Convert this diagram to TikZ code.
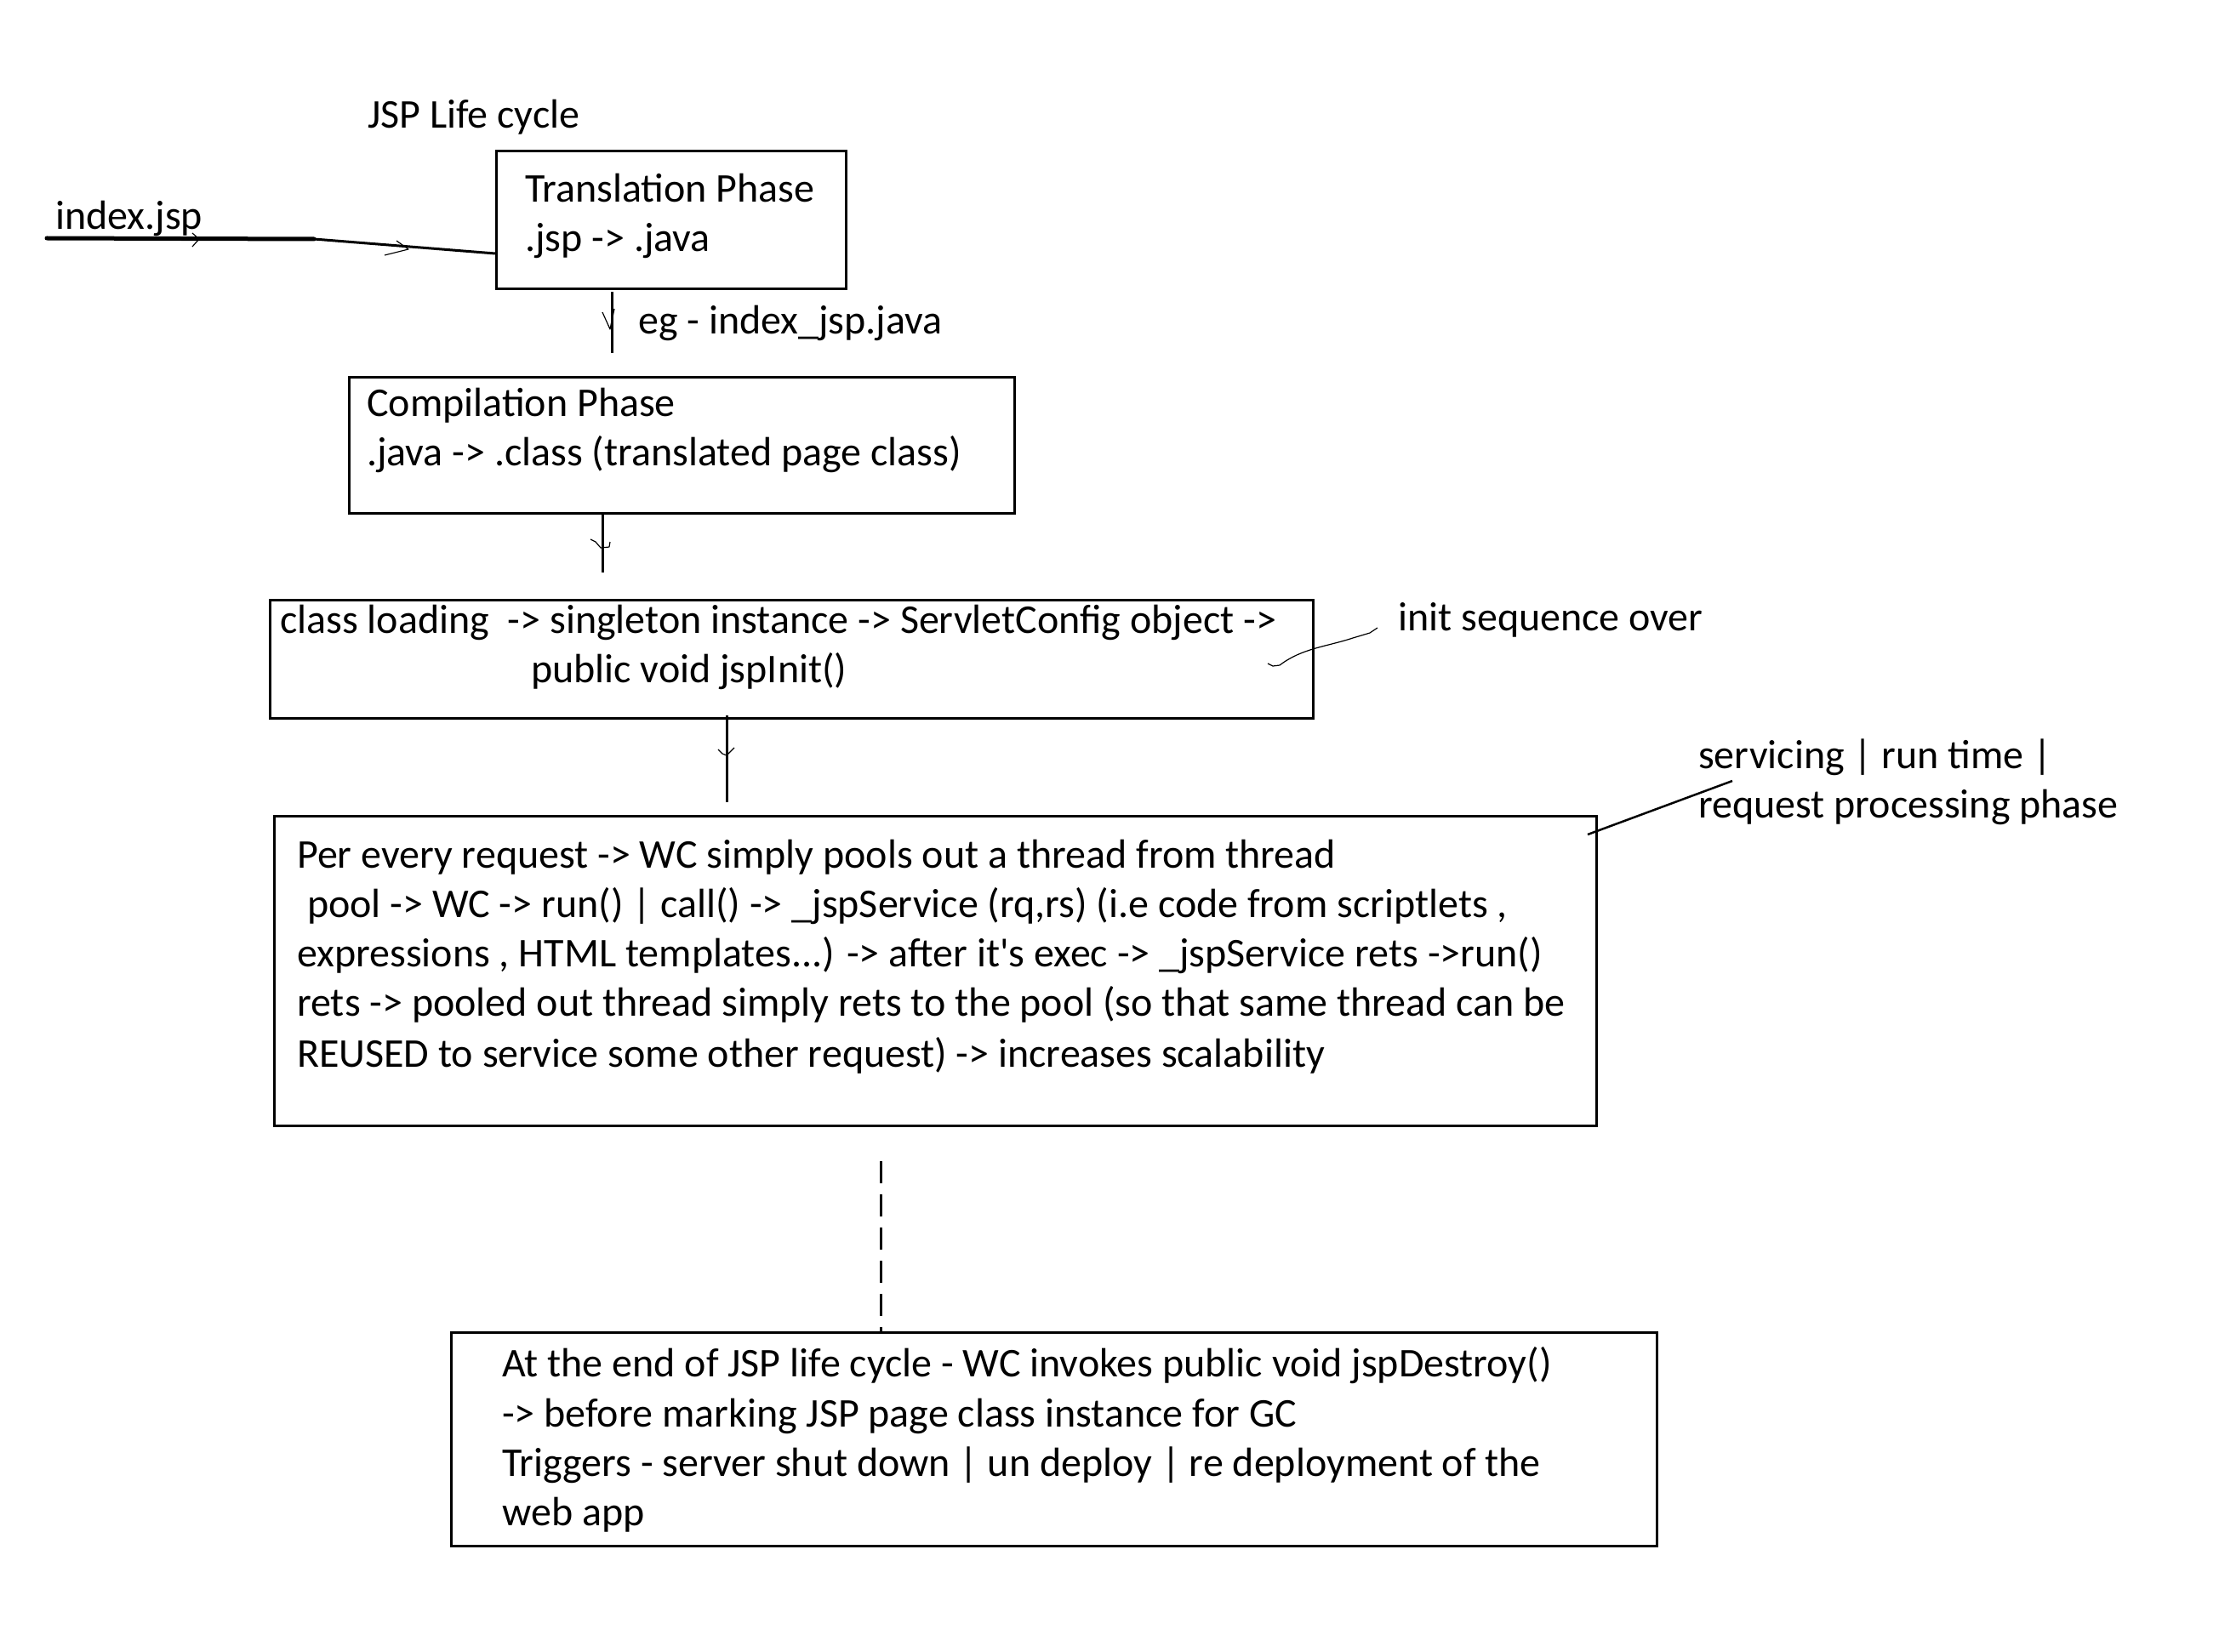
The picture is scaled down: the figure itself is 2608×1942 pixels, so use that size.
\documentclass[tikz,border=0pt]{standalone}
\usepackage{fontspec}
\setmainfont{Carlito}[Ligatures={Common,TeXOff}]
\begin{document}
\begin{tikzpicture}[x=1pt,y=-1pt,
  box/.style={draw, line width=3pt, rectangle, inner sep=0pt, anchor=north west},
  txt/.style={anchor=base west, inner sep=0pt, font=\fontsize{48}{58}\selectfont},
  conn/.style={line width=3pt},
  tip/.style={line width=1.2pt, line join=round}]
\useasboundingbox (0,0) rectangle (2608,1942);

% boxes
\node[box, minimum width=411pt, minimum height=162pt] (trans) at (582,176) {};
\node[box, minimum width=782pt, minimum height=160pt] (comp) at (409,442) {};
\node[box, minimum width=1226pt, minimum height=139pt] (class) at (316,704) {};
\node[box, minimum width=1554pt, minimum height=364pt] (req) at (321,958) {};
\node[box, minimum width=1417pt, minimum height=251pt] (end) at (529,1565) {};

% texts
\node[txt] (title) at (432,151) {JSP Life cycle};
\node[txt] (idx) at (65,270) {index.jsp};
\node[txt] (t1) at (617,238) {Translation Phase};
\node[txt] (t2) at (617,296) {.jsp -> .java};
\node[txt] (eg) at (750,393) {eg - index\_jsp.java};
\node[txt] (c1) at (431,489) {Compilation Phase};
\node[txt] (c2) at (431,547) {.java -> .class (translated page class)};
\node[txt] (l1) at (329,744) {class loading\ \ -> singleton instance -> ServletConfig object ->};
\node[txt] (l2) at (624,802) {public void jspInit()};
\node[txt] (init) at (1643,741) {init sequence over};
\node[txt] (s1) at (1996,903) {servicing | run time |};
\node[txt] (s2) at (1996,961) {request processing phase};
\node[txt] (r1) at (349,1020) {Per every request -> WC simply pools out a thread from thread};
\node[txt] (r2) at (361,1078) {pool -> WC -> run() | call() -> \_jspService (rq,rs) (i.e code from scriptlets ,};
\node[txt] (r3) at (349,1136) {expressions , HTML templates...) -> after it's exec -> \_jspService rets ->run()};
\node[txt] (r4) at (349,1194) {rets -> pooled out thread simply rets to the pool (so that same thread can be};
\node[txt] (r5) at (349,1254) {REUSED to service some other request) -> increases scalability};
\node[txt] (e1) at (590,1618) {At the end of JSP life cycle - WC invokes public void jspDestroy()};
\node[txt] (e2) at (590,1677) {-> before marking JSP page class instance for GC};
\node[txt] (e3) at (590,1735) {Triggers - server shut down | un deploy | re deployment of the};
\node[txt] (e4) at (590,1793) {web app};

% helper coordinates
\coordinate (src) at (55,280);
\coordinate (bend) at (369,281);
\coordinate (y298) at (0,298);
\coordinate (a1) at (719,415);
\coordinate (a2) at (708,673);
\coordinate (a3) at (854,943);
\coordinate (d4) at (1035,1365);
\coordinate (svc) at (2036,918);
\coordinate (initend) at (1619,738);

% index.jsp input
\draw[line width=5pt, line cap=round] (src) -- (bend);
\draw[conn] (bend) -- (trans.west |- y298);
\draw[tip] (226,274) -- (234,281) -- (226,290);
\draw[tip] (466,283) -- (480,293) -- (452,300);

% vertical connectors
\draw[conn] ([yshift=-2pt]a1 |- trans.south) -- (a1);
\draw[tip] (708,367) -- (717,387) -- (722,363);
\draw[conn] (a2 |- comp.south) -- (a2);
\draw[tip] (694,634) -- (700,637) -- (706,644) -- (716,643) -- (717,637);
\draw[conn] ([yshift=5pt]a3 |- class.south) -- (a3);
\draw[tip] (844,881) -- (849,886) -- (854,888) -- (863,879);
\draw[conn, dash pattern=on 26pt off 13pt] (d4) -- (d4 |- end.north);

% side notes
\draw[line width=1.2pt] ([shift={(-55,-66)}]class.south east) -- ++(6,3) -- ++(8,-1)
  .. controls (1530,762) and (1560,760) .. (1590,750) -- (1610,744) -- (initend);
\draw[line width=2.5pt] ([shift={(-12,23)}]req.north east) -- (svc);
\end{tikzpicture}
\end{document}
